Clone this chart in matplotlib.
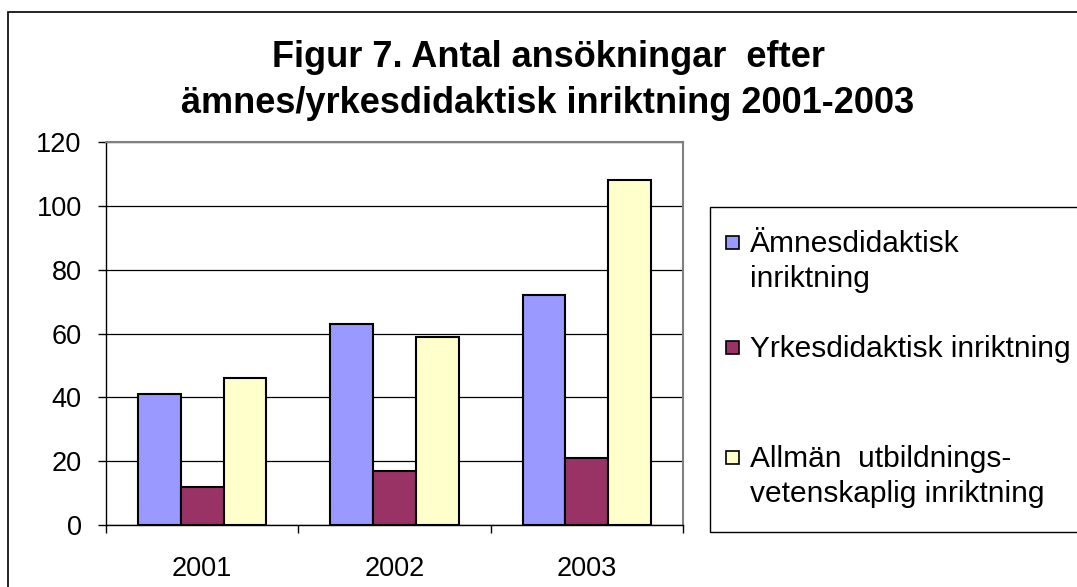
import matplotlib.pyplot as plt
from matplotlib.patches import Rectangle
import numpy as np

plt.rcParams['font.family'] = ['Liberation Sans', 'DejaVu Sans']

years = ['2001', '2002', '2003']
series_names = ['Ämnesdidaktisk\ninriktning',
                'Yrkesdidaktisk inriktning',
                'Allmän  utbildnings-\nvetenskaplig inriktning']
amnes = [41, 63, 72]
yrkes = [12, 17, 21]
allman = [46, 59, 108]
colors = ['#9999FF', '#993366', '#FFFFCC']
yticks = [0, 20, 40, 60, 80, 100, 120]

W, H = 1077, 587
fig = plt.figure(figsize=(W / 100, H / 100), dpi=100)

def fx(px):
    return px / W

def fy(py):
    return 1 - py / H

# outer chart border (cut off on right and bottom like the original)
fig.patches.append(Rectangle((fx(8), -0.1), 1.2, fy(12) + 0.1,
                             transform=fig.transFigure, fill=False,
                             edgecolor='black', lw=1.2))

ax = fig.add_axes([fx(106), fy(525), fx(683 - 106), (525 - 142) / H])
x = np.arange(len(years))
bw = 0.667 / 3
for i, vals in enumerate([amnes, yrkes, allman]):
    ax.bar(x + (i - 1) * bw, vals, bw, color=colors[i], edgecolor='black',
           lw=1.5, zorder=3)

ax.set_xlim(-0.5, len(years) - 0.5)
ax.set_ylim(0, 120)
ax.set_yticks(yticks)
ax.set_yticklabels([str(t) for t in yticks], fontsize=19.5)
ax.set_xticks(x)
ax.set_xticklabels(years, fontsize=19.5)
ax.set_xticks(np.arange(len(years) + 1) - 0.5, minor=True)
ax.tick_params(axis='x', which='major', length=0, pad=22)
ax.tick_params(axis='x', which='minor', length=6, width=1, direction='out')
ax.tick_params(axis='y', length=6, width=1, direction='out', pad=11.5)
ax.grid(axis='y', color='black', lw=0.9, zorder=0)
for s in ['top', 'right']:
    ax.spines[s].set_color('#808080')
    ax.spines[s].set_linewidth(1.5)
for s in ['left', 'bottom']:
    ax.spines[s].set_color('black')
    ax.spines[s].set_linewidth(1)

fig.text(fx(548), fy(67), 'Figur 7. Antal ansökningar  efter',
         ha='center', va='baseline', fontsize=26, fontweight='bold')
fig.text(fx(548), fy(113), 'ämnes/yrkesdidaktisk inriktning 2001-2003',
         ha='center', va='baseline', fontsize=26, fontweight='bold')

# legend box
fig.patches.append(Rectangle((fx(710), fy(532)), 0.5, (532 - 207) / H,
                             transform=fig.transFigure, fill=False,
                             edgecolor='black', lw=1))
baselines = [252, 357, 467]  # first text line baseline (px)
for name, c, yb in zip(series_names, colors, baselines):
    fig.patches.append(Rectangle((fx(726), fy(yb - 3)), 13 / W, 13 / H,
                                 transform=fig.transFigure, facecolor=c,
                                 edgecolor='black', lw=1.2))
    for k, line in enumerate(name.split('\n')):
        fig.text(fx(750), fy(yb + 35 * k), line, ha='left', va='baseline',
                 fontsize=21.5)

fig.savefig('out.png', dpi=100)
